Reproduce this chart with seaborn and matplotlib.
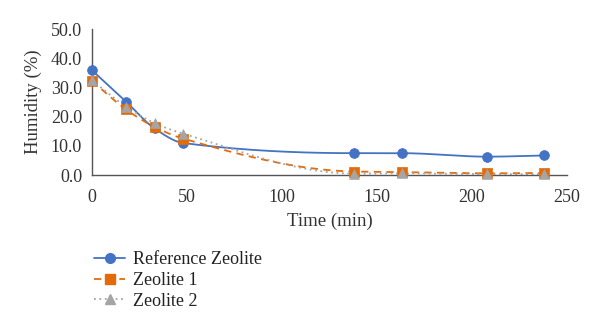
import numpy as np
import pandas as pd
import matplotlib
matplotlib.use("Agg")
import matplotlib.pyplot as plt
import seaborn as sns
from matplotlib.lines import Line2D

time_min = [0, 18, 33, 48, 138, 163, 208, 238]
reference_zeolite = [36.0, 25.2, 16.0, 11.0, 7.5, 7.5, 6.3, 6.7]
zeolite_1 = [32.3, 22.5, 16.5, 12.5, 1.2, 1.0, 0.6, 0.7]
zeolite_2 = [32.5, 23.5, 17.8, 14.2, 0.5, 0.6, 0.3, 0.3]
series_names = ["Reference Zeolite", "Zeolite 1", "Zeolite 2"]
x_ticks = [0, 50, 100, 150, 200, 250]
y_ticks = [0, 10, 20, 30, 40, 50]

sns.set_theme(style="white")
plt.rcParams["font.family"] = ["Liberation Serif", "DejaVu Serif"]

def smooth(x, y, n=40):
    # monotone cubic (Fritsch-Carlson) smoothing of the data line
    x = np.asarray(x, float); y = np.asarray(y, float)
    h = np.diff(x); d = np.diff(y) / h
    m = np.zeros_like(y)
    m[0], m[-1] = d[0], d[-1]
    for i in range(1, len(y) - 1):
        if d[i-1] * d[i] <= 0:
            m[i] = 0
        else:
            w1 = 2*h[i] + h[i-1]; w2 = h[i] + 2*h[i-1]
            m[i] = (w1 + w2) / (w1/d[i-1] + w2/d[i])
    xs, ys = [], []
    t = np.linspace(0, 1, n)
    for i in range(len(x) - 1):
        h00 = 2*t**3 - 3*t**2 + 1; h10 = t**3 - 2*t**2 + t
        h01 = -2*t**3 + 3*t**2; h11 = t**3 - t**2
        xs.extend(x[i] + t*h[i])
        ys.extend(h00*y[i] + h10*h[i]*m[i] + h01*y[i+1] + h11*h[i]*m[i+1])
    return np.array(xs), np.array(ys)

df = pd.DataFrame({"time": time_min * 3,
                   "value": reference_zeolite + zeolite_1 + zeolite_2,
                   "series": sum([[s]*len(time_min) for s in series_names], [])})

colors = ["#4472C4", "#E36C09", "#A5A5A5"]
markers = ["o", "s", "^"]
styles = ["-", (0, (4, 3)), (0, (1, 2))]

fig = plt.figure(figsize=(6, 3.29), dpi=100)
ax = fig.add_axes([0.153, 0.468, 0.792, 0.443])

handles = []
for name, c, m, ls in zip(series_names, colors, markers, styles):
    sub = df[df["series"] == name]
    sx, sy = smooth(sub["time"], sub["value"])
    sns.lineplot(x=sx, y=sy, ax=ax, color=c, linestyle=ls, linewidth=1.3, sort=False, estimator=None)
    sns.scatterplot(x=sub["time"], y=sub["value"], ax=ax, color=c, marker=m, s=50, edgecolor=c, linewidth=0.5, zorder=3)
    handles.append(Line2D([0], [0], color=c, linestyle=ls, linewidth=1.3, marker=m, markersize=7, markeredgecolor=c))

ax.set_xlim(0, 250)
ax.set_ylim(0, 50)
ax.set_xticks(x_ticks)
ax.set_yticks(y_ticks)
ax.set_yticklabels([f"{v:.1f}" for v in y_ticks])
ax.set_xlabel("Time (min)", fontsize=13.5, color="#333333", labelpad=5)
ax.set_ylabel("Humidity (%)", fontsize=13.5, color="#333333", labelpad=6)
ax.tick_params(axis="both", labelsize=13, labelcolor="#333333", length=4, width=1, direction="out", color="#555555", pad=3)
ax.tick_params(axis="x", pad=6)
for s in ["top", "right"]:
    ax.spines[s].set_visible(False)
for s in ["left", "bottom"]:
    ax.spines[s].set_color("#555555")
    ax.spines[s].set_linewidth(1)
ax.margins(0)
for coll in ax.collections:
    coll.set_clip_on(False)
for ln in ax.lines:
    ln.set_clip_on(False)

fig.legend(handles=handles, labels=series_names, loc="upper left", bbox_to_anchor=(0.145, 0.258),
           frameon=False, fontsize=13, handlelength=1.7, handletextpad=0.45, labelspacing=0.2, borderaxespad=0,
           labelcolor="#222222")

fig.savefig("out.png", dpi=100)
